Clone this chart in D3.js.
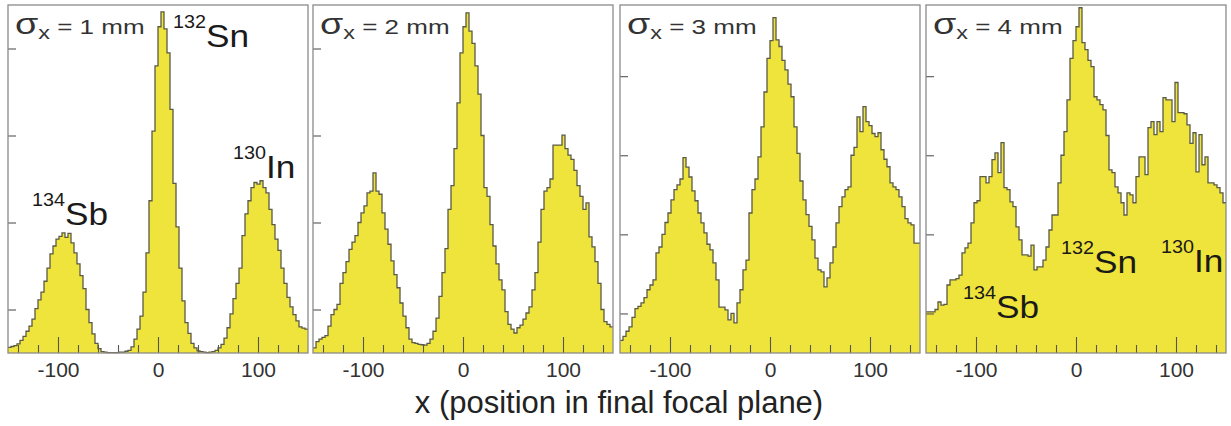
<!DOCTYPE html>
<meta charset="utf-8">
<style>
body { margin: 0; background: #fff; }
svg { font-family: "Liberation Sans", Arial, sans-serif; }
.tick line { stroke: #555; stroke-width: 1.1; }
.tick text { font-size: 21px; fill: #333; }
</style>
<body>
<script src="https://cdn.jsdelivr.net/npm/d3@7"></script>
<script>

// bins of 3 from -150 to 150 (100 bins per panel)
var binWidth = 3, xMin = -150, xMax = 150;

var sigmaValues = [1, 2, 3, 4];   // sigma_x in mm
var yMaxes = [800, 800, 880, 880];
var yTickValues = [100, 300, 500, 700];
var xMajorTicks = [-100, 0, 100];
var xMinorTicks = [-140, -120, -80, -60, -40, -20, 20, 40, 60, 80, 120, 140];

var counts1 = [13, 15, 17, 21, 29, 38, 50, 62, 78, 102,
  122, 140, 165, 195, 228, 246, 262, 268, 276, 266,
  275, 253, 230, 205, 178, 148, 100, 70, 44, 22,
  10, 3, 2, 1, 1, 1, 1, 2, 2, 4,
  6, 14, 32, 55, 85, 140, 230, 350, 510, 660,
  750, 784, 745, 690, 560, 390, 290, 195, 120, 70,
  45, 22, 12, 5, 3, 2, 1, 2, 3, 6,
  12, 20, 34, 58, 90, 125, 160, 195, 270, 320,
  350, 380, 392, 388, 396, 380, 368, 330, 295, 262,
  236, 195, 160, 128, 106, 88, 74, 60, 57, 55];

var counts2 = [12, 26, 32, 36, 40, 62, 88, 100, 112, 160,
  185, 210, 238, 255, 270, 300, 322, 338, 368, 372,
  414, 372, 365, 322, 285, 250, 212, 180, 150, 115,
  85, 58, 32, 24, 22, 20, 19, 18, 22, 32,
  50, 80, 130, 185, 240, 330, 385, 470, 575, 690,
  750, 782, 740, 712, 660, 595, 500, 380, 360, 295,
  246, 205, 168, 145, 95, 66, 55, 46, 58, 64,
  78, 92, 106, 145, 185, 255, 330, 372, 380, 400,
  478, 478, 478, 501, 470, 455, 445, 420, 385, 360,
  330, 345, 267, 244, 210, 160, 100, 72, 66, 60];

var counts3 = [32, 42, 55, 66, 90, 112, 118, 127, 140, 160,
  172, 185, 253, 268, 300, 330, 354, 387, 413, 425,
  440, 494, 470, 445, 410, 385, 354, 329, 304, 275,
  261, 228, 185, 116, 116, 109, 84, 100, 76, 127,
  160, 210, 235, 354, 413, 440, 496, 572, 660, 745,
  790, 848, 792, 775, 740, 716, 680, 648, 572, 505,
  435, 387, 350, 320, 286, 240, 210, 205, 167, 190,
  228, 268, 329, 370, 395, 413, 420, 500, 520, 597,
  560, 623, 585, 575, 555, 547, 557, 514, 490, 471,
  430, 420, 413, 395, 370, 340, 329, 324, 278, 278];

var counts4 = [104, 104, 104, 110, 129, 121, 123, 172, 185, 185,
  188, 197, 253, 266, 278, 329, 380, 385, 446, 446,
  430, 446, 489, 506, 456, 532, 418, 413, 382, 370,
  319, 286, 248, 248, 245, 273, 210, 218, 218, 235,
  268, 311, 349, 349, 430, 500, 560, 640, 745, 790,
  825, 873, 785, 767, 740, 724, 648, 640, 628, 615,
  550, 463, 456, 420, 405, 380, 349, 405, 400, 380,
  446, 496, 496, 451, 570, 585, 552, 585, 560, 646,
  640, 640, 585, 684, 608, 608, 605, 577, 530, 557,
  458, 552, 476, 496, 430, 430, 425, 418, 405, 380];

var allCounts = [counts1, counts2, counts3, counts4];

// isotope labels: panel index, mass number, symbol, anchor (x value, count)
var isotopeLabels = [
  {panel: 0, mass: "132", sym: "Sn", x: 15, y: 703},
  {panel: 0, mass: "130", sym: "In", x: 75, y: 402},
  {panel: 0, mass: "134", sym: "Sb", x: -126, y: 294},
  {panel: 3, mass: "134", sym: "Sb", x: -113, y: 89},
  {panel: 3, mass: "132", sym: "Sn", x: -15, y: 203},
  {panel: 3, mass: "130", sym: "In", x: 85, y: 205}
];

var width = 1231, height = 426;
var panelLeft = [8, 313, 620, 926],
    panelWidth = 300,
    panelTop = 5,
    panelBottom = 353;

var svg = d3.select("body").append("svg")
    .attr("width", width)
    .attr("height", height);

var scales = [];

allCounts.forEach(function(counts, p) {
  var x = d3.scaleLinear()
      .domain([xMin, xMax])
      .range([panelLeft[p], panelLeft[p] + panelWidth]);
  var y = d3.scaleLinear()
      .domain([0, yMaxes[p]])
      .range([panelBottom, panelTop]);
  scales.push({x: x, y: y});

  var pts = counts.map(function(c, i) { return [xMin + i * binWidth, c]; });
  pts.push([xMax, counts[counts.length - 1]]);

  var g = svg.append("g");

  g.append("path")
      .datum(pts)
      .attr("fill", "#efe43b")
      .attr("d", d3.area()
          .curve(d3.curveStepAfter)
          .x(function(d) { return x(d[0]); })
          .y0(y(0))
          .y1(function(d) { return y(d[1]); }));

  g.append("path")
      .datum(pts)
      .attr("fill", "none")
      .attr("stroke", "#5a5a45")
      .attr("stroke-width", 1.3)
      .attr("d", d3.line()
          .curve(d3.curveStepAfter)
          .x(function(d) { return x(d[0]); })
          .y(function(d) { return y(d[1]); }));

  // minor x ticks
  g.append("g")
      .attr("transform", "translate(0," + panelBottom + ")")
      .call(d3.axisBottom(x).tickValues(xMinorTicks).tickSizeInner(-8).tickSizeOuter(0).tickFormat(""))
      .call(function(s) { s.select(".domain").remove(); });

  // major x ticks with labels
  g.append("g")
      .attr("transform", "translate(0," + panelBottom + ")")
      .call(d3.axisBottom(x).tickValues(xMajorTicks).tickSizeInner(-16).tickSizeOuter(0)
          .tickPadding(9).tickFormat(function(d) { return String(d); }))
      .call(function(s) { s.select(".domain").remove(); })
      .attr("font-family", null);

  // y ticks
  g.append("g")
      .attr("transform", "translate(" + panelLeft[p] + ",0)")
      .call(d3.axisLeft(y).tickValues(yTickValues).tickSizeInner(-8).tickSizeOuter(0).tickFormat(""))
      .call(function(s) { s.select(".domain").remove(); });

  // frame
  g.append("rect")
      .attr("x", panelLeft[p])
      .attr("y", panelTop)
      .attr("width", panelWidth)
      .attr("height", panelBottom - panelTop)
      .attr("fill", "none")
      .attr("stroke", "#8a8a8a")
      .attr("stroke-width", 1.3);

  // sigma label
  var t = g.append("text")
      .attr("transform", "translate(" + (panelLeft[p] + 7) + ",34) scale(1.3,1)")
      .attr("fill", "#333");
  t.append("tspan").attr("font-size", 29).text("σ");
  t.append("tspan").attr("font-size", 18).attr("dy", 5).text("x");
  t.append("tspan").attr("font-size", 20).attr("dy", -5).text(" = " + sigmaValues[p] + " mm");
});

isotopeLabels.forEach(function(l) {
  var s = scales[l.panel];
  var t = svg.append("text")
      .attr("transform", "translate(" + s.x(l.x) + "," + s.y(l.y) + ") scale(1.1,1)")
      .attr("fill", "#1a1a1a");
  t.append("tspan").attr("font-size", 18).attr("dy", -19).text(l.mass);
  t.append("tspan").attr("font-size", 32).attr("dy", 19).text(l.sym);
});

svg.append("text")
    .attr("x", 619)
    .attr("y", 413)
    .attr("text-anchor", "middle")
    .attr("font-size", 31)
    .attr("fill", "#222")
    .text("x (position in final focal plane)");

</script>
